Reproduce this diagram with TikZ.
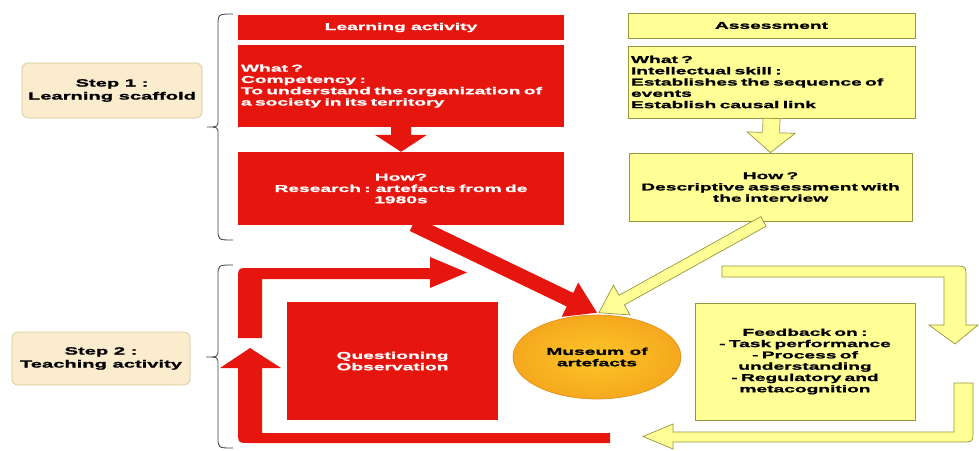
\documentclass[tikz,border=0pt]{standalone}
\usepackage{fontspec}
\setmainfont{Liberation Sans}[FakeStretch=1.92, BoldFeatures={FakeBold=1.2}]
\usetikzlibrary{calc,shapes.geometric}
\definecolor{lred}{RGB}{230,22,15}
\definecolor{lyel}{RGB}{255,255,150}
\definecolor{lyelb}{RGB}{150,150,60}
\definecolor{stepf}{RGB}{252,236,206}
\definecolor{stepb}{RGB}{210,198,150}
\definecolor{morange}{RGB}{245,168,30}
\definecolor{mlight}{RGB}{253,198,40}
\definecolor{mborder}{RGB}{225,140,20}

\newcommand\blockarrow[6]{%
  \coordinate (ba-c) at ($(#3)!#6!(#2)$);
  \path[#1] ($(#2)!#4!90:(#3)$) -- ($(ba-c)!#4!90:(#3)$) -- ($(ba-c)!#5!90:(#3)$) -- (#3)
    -- ($(ba-c)!#5!-90:(#3)$) -- ($(ba-c)!#4!-90:(#3)$) -- ($(#2)!#4!-90:(#3)$) -- cycle;}

\tikzset{
  txt/.style={font=\bfseries\fontsize{10}{11.3}\selectfont},
  redbox/.style={txt, fill=lred, text=white, inner sep=3pt},
  yelbox/.style={txt, fill=lyel, draw=lyelb, line width=0.8pt, text=black, inner sep=3pt},
  stepbox/.style={font=\bfseries\fontsize{10.5}{13}\selectfont, fill=stepf, draw=stepb, line width=0.6pt,
     rounded corners=6pt, align=center, minimum width=180pt, minimum height=55pt},
  redarrow/.style={fill=lred},
  yelarrow/.style={fill=lyel, draw=lyelb, line width=0.7pt, line join=miter},
  bracestyle/.style={draw=black!75, line width=0.8pt}
}

\begin{document}
\begin{tikzpicture}[x=1pt,y=-1pt]
\useasboundingbox (0,0) rectangle (979,450);
\fill[white] (0,0) rectangle (979,450);

% step boxes
\node[stepbox] (step1) at (112,90.5) {Step 1 :\\Learning scaffold};
\node[stepbox, minimum width=178pt, minimum height=53pt] (step2) at (101,358.5) {Step 2 :\\Teaching activity};

% braces
\draw[bracestyle] (233,14) .. controls (218,14) .. (218,26) -- (218,119) .. controls (218,127) .. (207,127)
  .. controls (218,127) .. (218,135) -- (218,229) .. controls (218,240) .. (233,240);
\draw[bracestyle] (233,265) .. controls (218,265) .. (218,276) -- (218,349) .. controls (218,357) .. (206,357)
  .. controls (218,357) .. (218,365) -- (218,437) .. controls (218,448) .. (233,448);

% learning activity column
\node[redbox, minimum width=326pt, minimum height=25pt] (lahead) at (401,27.5) {Learning activity};
\node[redbox, minimum width=326pt, minimum height=82pt, text width=320pt, align=left] (lawhat) at (401,86)
  {What ?\\Competency :\\To understand the organization of\\a society in its territory};
\node[redbox, minimum width=326pt, minimum height=73pt, text width=320pt, align=center] (lahow) at (401,188.5)
  {How?\\Research : artefacts from de\\1980s};

% assessment column
\node[yelbox, minimum width=287pt, minimum height=25pt] (ashead) at (771.5,25.5) {Assessment};
\node[yelbox, minimum width=287pt, minimum height=72pt, text width=281pt, align=left] (aswhat) at (771.5,82)
  {What ?\\Intellectual skill :\\Establishes the sequence of\\events\\Establish causal link};
\node[yelbox, minimum width=283pt, minimum height=68pt, text width=277pt, align=center] (ashow) at (770.5,187)
  {How ?\\Descriptive assessment with\\the interview};

% bottom row
\node[redbox, minimum width=211pt, minimum height=118pt, align=center] (quest) at (392.5,361)
  {Questioning\\Observation};
\node[txt, ellipse, minimum width=168pt, minimum height=84pt, inner color=mlight, outer color=morange,
  draw=mborder, line width=0.6pt, align=center, inner sep=0pt] (museum) at (597,357) {Museum of\\artefacts};
\node[yelbox, minimum width=220pt, minimum height=117pt, text width=214pt, align=center] (feed) at (805,361.5)
  {Feedback on :\\- Task performance\\- Process of\\understanding\\- Regulatory and\\metacognition};

% straight block arrows
\coordinate (r1a) at (lawhat.south);
\coordinate (r1b) at (lahow.north);
\blockarrow{redarrow}{r1a}{r1b}{10pt}{26pt}{17pt}
\coordinate (y1a) at (aswhat.south);
\coordinate (y1b) at (ashow.north);
\blockarrow{yelarrow}{y1a}{y1b}{8.5pt}{24pt}{20pt}
\coordinate (r2a) at ($(lahow.south)+(12,-1)$);
\coordinate (r2b) at ($(museum.north)+(0,-2)$);
\blockarrow{redarrow}{r2a}{r2b}{7.5pt}{19pt}{30pt}
\coordinate (y2a) at ($(ashow.south)+(-7,0)$);
\coordinate (y2b) at ($(museum.north)+(2,-2)$);
\blockarrow{yelarrow}{y2a}{y2b}{5.5pt}{17pt}{26pt}

% red loop
\fill[lred] (238,338) -- (238,280) .. controls (238,268) .. (250,268) -- (430,268) -- (430,257)
  -- (467,272.5) -- (430,288) -- (430,279) -- (262,279) -- (262,338) -- cycle;
\fill[lred] (610,433) -- (610,443) -- (250,443) .. controls (238,443) .. (238,431) -- (238,368)
  -- (220,368) -- (250,348) -- (281,368) -- (262,368) -- (262,433) -- cycle;

% yellow loop
\path[yelarrow] (722,266) -- (954,266) .. controls (966,266) .. (966,278) -- (966,325) -- (978,325)
  -- (955,344) -- (929,325) -- (944,325) -- (944,277) -- (722,277) -- cycle;
\path[yelarrow] (954,383) -- (973,383) -- (973,430) .. controls (973,442) .. (961,442) -- (673,442)
  -- (673,449) -- (643,436.5) -- (673,424) -- (673,432) -- (954,432) -- cycle;
\end{tikzpicture}
\end{document}
